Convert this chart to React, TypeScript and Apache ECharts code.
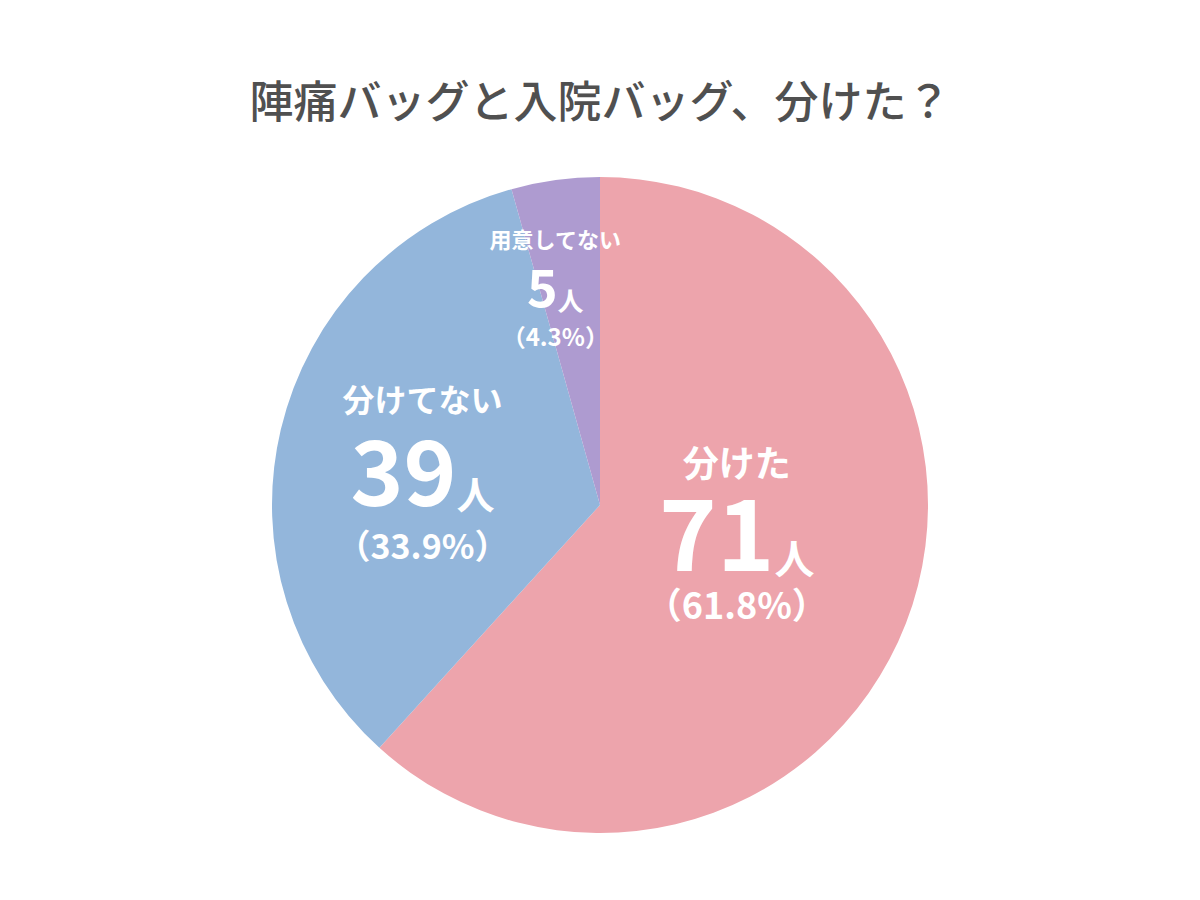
import React, { useEffect, useRef } from "react";
import * as echarts from "echarts";

const titleText = "陣痛バッグと入院バッグ、分けた？";
const categories = ["分けた", "分けてない", "用意してない"];
const counts = [71, 39, 5];
const percents = ["61.8", "33.9", "4.3"];
const colors = ["#EDA4AC", "#93B6DB", "#AE9BD0"];
const labelOffsets = [
  [-19, -29],
  [-15, 9],
  [-22, -51],
];

const FONT = "'Noto Sans CJK JP', 'Noto Sans', sans-serif";

export default function App() {
  const ref = useRef<HTMLDivElement>(null);
  useEffect(() => {
    if (!ref.current) return;
    const chart = echarts.init(ref.current, undefined, { renderer: "svg" });
    const sizes = [
      { n: 36, v: 98, u: 40, p: 36, ln: 36, lv: 98, lp: 52 },
      { n: 32, v: 90, u: 38, p: 34, ln: 48, lv: 90, lp: 66 },
      { n: 22, v: 52, u: 26, p: 24, ln: 38, lv: 56, lp: 46 },
    ];
    const rich: any = {};
    sizes.forEach((s, i) => {
      rich["n" + i] = { fontSize: s.n, fontWeight: "bold", color: "#fff", fontFamily: FONT, lineHeight: s.ln };
      rich["v" + i] = { fontSize: s.v, fontWeight: "bold", color: "#fff", fontFamily: FONT, lineHeight: s.lv };
      rich["u" + i] = { fontSize: s.u, fontWeight: "bold", color: "#fff", fontFamily: FONT, lineHeight: s.lv, verticalAlign: "bottom" };
      rich["p" + i] = { fontSize: s.p, fontWeight: "bold", color: "#fff", fontFamily: FONT, lineHeight: s.lp };
    });
    chart.setOption({
      animation: false,
      backgroundColor: "#ffffff",
      title: {
        text: titleText,
        left: "center",
        top: 72,
        textStyle: { fontSize: 44, fontWeight: 500, color: "#505050", fontFamily: FONT },
      },
      series: [
        {
          type: "pie",
          center: [600, 505],
          radius: [0, 328],
          startAngle: 90,
          clockwise: true,
          itemStyle: { borderWidth: 0 },
          label: {
            show: true,
            position: "inside",
            align: "center",
            formatter: (p: any) => {
              const i = p.dataIndex;
              return `{n${i}|${categories[i]}}\n{v${i}|${counts[i]}}{u${i}|人}\n{p${i}|（${percents[i]}%）}`;
            },
            rich,
          },
          labelLayout: (p: any) => ({ dx: labelOffsets[p.dataIndex][0], dy: labelOffsets[p.dataIndex][1] }),
          emphasis: { disabled: true },
          data: categories.map((c, i) => ({ name: c, value: counts[i], itemStyle: { color: colors[i] } })),
        },
      ],
    });
    return () => chart.dispose();
  }, []);
  return <div ref={ref} style={{ position: "fixed", left: 0, top: 0, width: 1200, height: 900 }} />;
}
